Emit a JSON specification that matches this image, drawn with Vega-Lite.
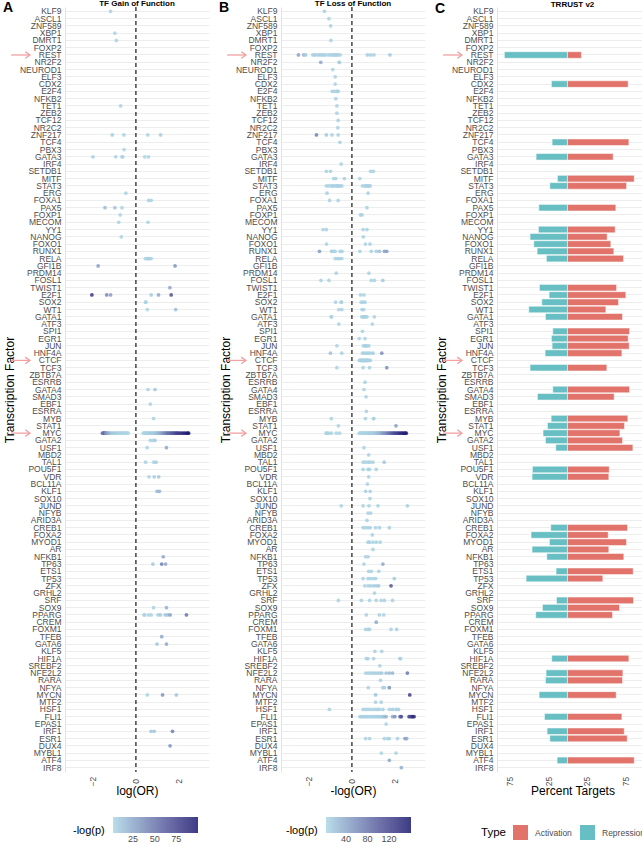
{
 "$schema": "https://vega.github.io/schema/vega-lite/v6.json",
 "padding": {"left": 3, "top": 0, "right": 0, "bottom": 0},
 "autosize": {"type": "pad"},
 "config": {
  "background": "white",
  "view": {"stroke": null},
  "font": "Liberation Sans",
  "title": {"fontSize": 8, "fontWeight": "bold", "color": "#000000", "offset": -2, "anchor": "middle"},
  "axis": {"ticks": false, "domain": false, "grid": false, "labelColor": "#4d4d4d", "labelFontSize": 8.5, "titleFontSize": 12, "titleFontWeight": "normal", "titleColor": "#000000", "labelOverlap": false},
  "legend": {"titleFontWeight": "normal", "titleColor": "#000000", "labelColor": "#4d4d4d"}
 },
 "datasets": {
  "hl": [{"tf": "REST"}, {"tf": "CTCF"}, {"tf": "MYC"}],
  "gof": [
   {"tf":"KLF9","x":-1.18,"lp":5},{"tf":"XBP1","x":-0.98,"lp":5},{"tf":"DMRT1","x":-0.91,"lp":5},{"tf":"TET1","x":-0.71,"lp":5},
   {"tf":"ZNF217","x":0.55,"lp":5},{"tf":"ZNF217","x":1.15,"lp":6},{"tf":"ZNF217","x":-0.56,"lp":5},{"tf":"ZNF217","x":-1.1,"lp":8},
   {"tf":"PBX3","x":-0.55,"lp":5},
   {"tf":"GATA3","x":-0.65,"lp":5},{"tf":"GATA3","x":-2.0,"lp":6},{"tf":"GATA3","x":-0.94,"lp":5},{"tf":"GATA3","x":-0.61,"lp":5},{"tf":"GATA3","x":0.41,"lp":5},{"tf":"GATA3","x":0.58,"lp":5},
   {"tf":"ERG","x":-0.47,"lp":5},{"tf":"FOXA1","x":0.59,"lp":5},{"tf":"FOXA1","x":0.71,"lp":5},
   {"tf":"PAX5","x":-1.44,"lp":15},{"tf":"PAX5","x":-0.98,"lp":12},{"tf":"PAX5","x":-0.65,"lp":5},
   {"tf":"FOXP1","x":-0.73,"lp":5},{"tf":"MECOM","x":-0.8,"lp":5},{"tf":"MECOM","x":0.56,"lp":5},{"tf":"NANOG","x":-0.68,"lp":5},
   {"tf":"RELA","x":0.44,"lp":5},{"tf":"RELA","x":0.53,"lp":5},{"tf":"RELA","x":0.62,"lp":5},{"tf":"RELA","x":0.71,"lp":5},{"tf":"RELA","x":0.59,"lp":5},
   {"tf":"GFI1B","x":-1.76,"lp":30},{"tf":"GFI1B","x":1.82,"lp":35},{"tf":"TWIST1","x":1.58,"lp":25},
   {"tf":"E2F1","x":-2.05,"lp":85},{"tf":"E2F1","x":-1.36,"lp":40},{"tf":"E2F1","x":-1.18,"lp":30},{"tf":"E2F1","x":0.71,"lp":8},{"tf":"E2F1","x":1.05,"lp":25},{"tf":"E2F1","x":1.64,"lp":70},
   {"tf":"SOX2","x":0.45,"lp":5},{"tf":"SOX2","x":0.46,"lp":5},{"tf":"WT1","x":0.53,"lp":5},{"tf":"WT1","x":1.85,"lp":15},
   {"tf":"GATA4","x":0.56,"lp":5},{"tf":"GATA4","x":0.89,"lp":10},{"tf":"EBF1","x":0.67,"lp":5},{"tf":"MYB","x":0.82,"lp":5},
   {"tf":"MYC","x":-1.56,"lp":45},{"tf":"MYC","x":-1.52,"lp":55},{"tf":"MYC","x":-1.48,"lp":50},{"tf":"MYC","x":-1.45,"lp":60},{"tf":"MYC","x":-1.42,"lp":40},{"tf":"MYC","x":-1.38,"lp":35},{"tf":"MYC","x":-1.33,"lp":30},{"tf":"MYC","x":-1.28,"lp":25},{"tf":"MYC","x":-1.22,"lp":20},{"tf":"MYC","x":-1.15,"lp":12},{"tf":"MYC","x":-1.08,"lp":10},{"tf":"MYC","x":-1.02,"lp":8},{"tf":"MYC","x":-0.96,"lp":8},{"tf":"MYC","x":-0.9,"lp":6},{"tf":"MYC","x":-0.85,"lp":6},{"tf":"MYC","x":-0.8,"lp":5},{"tf":"MYC","x":-0.75,"lp":5},{"tf":"MYC","x":-0.7,"lp":5},{"tf":"MYC","x":-0.65,"lp":4},{"tf":"MYC","x":-0.6,"lp":4},{"tf":"MYC","x":-0.55,"lp":4},{"tf":"MYC","x":-0.5,"lp":4},{"tf":"MYC","x":-0.45,"lp":3},{"tf":"MYC","x":-0.4,"lp":3},{"tf":"MYC","x":-0.36,"lp":3},
   {"tf":"MYC","x":0.34,"lp":4},{"tf":"MYC","x":0.38,"lp":4},{"tf":"MYC","x":0.42,"lp":4},{"tf":"MYC","x":0.46,"lp":5},{"tf":"MYC","x":0.5,"lp":5},{"tf":"MYC","x":0.54,"lp":5},{"tf":"MYC","x":0.58,"lp":5},{"tf":"MYC","x":0.62,"lp":6},{"tf":"MYC","x":0.66,"lp":6},{"tf":"MYC","x":0.7,"lp":6},{"tf":"MYC","x":0.74,"lp":7},{"tf":"MYC","x":0.78,"lp":7},{"tf":"MYC","x":0.82,"lp":8},{"tf":"MYC","x":0.86,"lp":9},{"tf":"MYC","x":0.9,"lp":10},{"tf":"MYC","x":0.94,"lp":11},{"tf":"MYC","x":0.98,"lp":12},{"tf":"MYC","x":1.02,"lp":14},{"tf":"MYC","x":1.06,"lp":16},{"tf":"MYC","x":1.1,"lp":18},{"tf":"MYC","x":1.14,"lp":20},{"tf":"MYC","x":1.18,"lp":24},{"tf":"MYC","x":1.22,"lp":27},{"tf":"MYC","x":1.26,"lp":30},{"tf":"MYC","x":1.3,"lp":33},{"tf":"MYC","x":1.34,"lp":36},{"tf":"MYC","x":1.38,"lp":40},{"tf":"MYC","x":1.42,"lp":43},{"tf":"MYC","x":1.46,"lp":46},{"tf":"MYC","x":1.5,"lp":50},{"tf":"MYC","x":1.55,"lp":52},{"tf":"MYC","x":1.6,"lp":55},{"tf":"MYC","x":1.65,"lp":58},{"tf":"MYC","x":1.7,"lp":62},{"tf":"MYC","x":1.75,"lp":65},{"tf":"MYC","x":1.8,"lp":68},{"tf":"MYC","x":1.85,"lp":72},{"tf":"MYC","x":1.9,"lp":75},{"tf":"MYC","x":1.95,"lp":78},{"tf":"MYC","x":2.0,"lp":80},{"tf":"MYC","x":2.08,"lp":84},{"tf":"MYC","x":2.16,"lp":88},{"tf":"MYC","x":2.24,"lp":92},{"tf":"MYC","x":2.32,"lp":95},{"tf":"MYC","x":2.4,"lp":98},{"tf":"MYC","x":2.45,"lp":100},
   {"tf":"GATA2","x":0.67,"lp":5},{"tf":"GATA2","x":0.79,"lp":5},{"tf":"GATA2","x":0.89,"lp":8},
   {"tf":"USF1","x":1.42,"lp":25},{"tf":"USF1","x":0.52,"lp":5},
   {"tf":"TAL1","x":0.45,"lp":5},{"tf":"TAL1","x":0.83,"lp":5},{"tf":"TAL1","x":0.94,"lp":8},
   {"tf":"VDR","x":0.61,"lp":5},{"tf":"VDR","x":0.85,"lp":8},{"tf":"VDR","x":1.06,"lp":10},
   {"tf":"KLF1","x":0.98,"lp":15},{"tf":"KLF1","x":1.09,"lp":20},{"tf":"NFKB1","x":1.27,"lp":25},
   {"tf":"TP63","x":0.79,"lp":10},{"tf":"TP63","x":1.2,"lp":45},{"tf":"TP63","x":1.38,"lp":25},
   {"tf":"SOX9","x":0.82,"lp":5},{"tf":"SOX9","x":1.42,"lp":20},
   {"tf":"PPARG","x":0.38,"lp":5},{"tf":"PPARG","x":0.41,"lp":5},{"tf":"PPARG","x":0.59,"lp":5},{"tf":"PPARG","x":0.71,"lp":5},{"tf":"PPARG","x":1.03,"lp":8},{"tf":"PPARG","x":1.14,"lp":8},{"tf":"PPARG","x":1.36,"lp":10},{"tf":"PPARG","x":1.47,"lp":12},{"tf":"PPARG","x":1.59,"lp":30},{"tf":"PPARG","x":2.35,"lp":50},
   {"tf":"TFEB","x":1.2,"lp":25},{"tf":"GATA6","x":0.98,"lp":10},{"tf":"GATA6","x":1.42,"lp":25},
   {"tf":"MYCN","x":0.53,"lp":5},{"tf":"MYCN","x":1.24,"lp":35},{"tf":"MYCN","x":1.88,"lp":10},
   {"tf":"IRF1","x":0.71,"lp":10},{"tf":"IRF1","x":0.85,"lp":10},{"tf":"IRF1","x":1.7,"lp":45},
   {"tf":"DUX4","x":1.59,"lp":35}
  ],
  "lof": [
   {"tf":"KLF9","x":-1.28,"lp":8},{"tf":"ASCL1","x":-1.07,"lp":8},{"tf":"ZNF589","x":-0.99,"lp":8},{"tf":"DMRT1","x":-0.98,"lp":8},
   {"tf":"REST","x":-2.49,"lp":45},{"tf":"REST","x":-2.24,"lp":30},{"tf":"REST","x":-2.15,"lp":15},{"tf":"REST","x":-1.82,"lp":10},{"tf":"REST","x":-1.73,"lp":12},{"tf":"REST","x":-1.62,"lp":8},{"tf":"REST","x":-1.53,"lp":8},{"tf":"REST","x":-1.45,"lp":8},{"tf":"REST","x":-1.37,"lp":10},{"tf":"REST","x":-1.3,"lp":8},{"tf":"REST","x":-1.24,"lp":8},{"tf":"REST","x":-1.11,"lp":8},{"tf":"REST","x":-1.0,"lp":8},{"tf":"REST","x":-0.92,"lp":8},{"tf":"REST","x":-0.85,"lp":8},{"tf":"REST","x":-0.81,"lp":8},{"tf":"REST","x":-0.73,"lp":8},{"tf":"REST","x":-0.7,"lp":8},{"tf":"REST","x":-0.64,"lp":8},{"tf":"REST","x":-0.55,"lp":8},{"tf":"REST","x":0.72,"lp":10},{"tf":"REST","x":0.87,"lp":10},{"tf":"REST","x":1.02,"lp":10},{"tf":"REST","x":1.77,"lp":15},
   {"tf":"NR2F2","x":-1.45,"lp":40},{"tf":"NR2F2","x":-0.6,"lp":8},{"tf":"NR2F2","x":-0.58,"lp":8},
   {"tf":"NEUROD1","x":-0.89,"lp":8},{"tf":"ELF3","x":-0.78,"lp":8},{"tf":"CDX2","x":-0.78,"lp":8},
   {"tf":"E2F4","x":-0.7,"lp":8},{"tf":"E2F4","x":-0.64,"lp":8},{"tf":"E2F4","x":-0.92,"lp":8},{"tf":"E2F4","x":-0.82,"lp":8},{"tf":"E2F4","x":-0.67,"lp":8},
   {"tf":"NFKB2","x":-0.75,"lp":8},{"tf":"TET1","x":-0.7,"lp":8},{"tf":"ZEB2","x":-0.7,"lp":8},{"tf":"TCF12","x":-0.64,"lp":8},{"tf":"NR2C2","x":-0.66,"lp":8},
   {"tf":"ZNF217","x":-1.65,"lp":70},{"tf":"ZNF217","x":-1.19,"lp":15},{"tf":"ZNF217","x":-0.93,"lp":8},{"tf":"ZNF217","x":-0.64,"lp":8},
   {"tf":"TCF4","x":-0.56,"lp":8},{"tf":"IRF4","x":-0.5,"lp":8},
   {"tf":"SETDB1","x":-1.19,"lp":8},{"tf":"SETDB1","x":-1.0,"lp":8},{"tf":"SETDB1","x":0.87,"lp":8},{"tf":"SETDB1","x":1.0,"lp":8},
   {"tf":"MITF","x":-0.85,"lp":8},{"tf":"MITF","x":-0.75,"lp":8},{"tf":"MITF","x":-0.35,"lp":8},{"tf":"MITF","x":0.37,"lp":8},
   {"tf":"STAT3","x":-1.19,"lp":8},{"tf":"STAT3","x":-1.08,"lp":8},{"tf":"STAT3","x":-0.96,"lp":8},{"tf":"STAT3","x":-0.9,"lp":8},{"tf":"STAT3","x":-0.85,"lp":8},{"tf":"STAT3","x":-0.76,"lp":8},{"tf":"STAT3","x":-0.7,"lp":8},{"tf":"STAT3","x":-0.67,"lp":8},{"tf":"STAT3","x":-0.6,"lp":8},{"tf":"STAT3","x":-0.55,"lp":8},{"tf":"STAT3","x":-0.47,"lp":8},{"tf":"STAT3","x":0.49,"lp":8},{"tf":"STAT3","x":0.6,"lp":8},{"tf":"STAT3","x":0.65,"lp":8},{"tf":"STAT3","x":0.7,"lp":8},{"tf":"STAT3","x":0.75,"lp":8},{"tf":"STAT3","x":0.79,"lp":8},{"tf":"STAT3","x":0.85,"lp":8},
   {"tf":"ERG","x":-1.16,"lp":8},{"tf":"ERG","x":0.75,"lp":8},{"tf":"FOXA1","x":-1.04,"lp":8},{"tf":"FOXA1","x":-0.64,"lp":8},
   {"tf":"PAX5","x":0.7,"lp":8},{"tf":"FOXP1","x":0.47,"lp":8},{"tf":"FOXP1","x":0.4,"lp":8},
   {"tf":"YY1","x":-1.34,"lp":8},{"tf":"YY1","x":-1.19,"lp":8},{"tf":"YY1","x":0.52,"lp":8},{"tf":"YY1","x":0.7,"lp":8},
   {"tf":"NANOG","x":0.53,"lp":8},{"tf":"FOXO1","x":-1.18,"lp":8},{"tf":"FOXO1","x":0.63,"lp":8},{"tf":"FOXO1","x":0.84,"lp":10},
   {"tf":"RUNX1","x":-1.51,"lp":50},{"tf":"RUNX1","x":-0.95,"lp":8},{"tf":"RUNX1","x":-0.93,"lp":8},{"tf":"RUNX1","x":-0.85,"lp":8},{"tf":"RUNX1","x":-0.78,"lp":8},{"tf":"RUNX1","x":-0.55,"lp":8},{"tf":"RUNX1","x":-0.46,"lp":8},{"tf":"RUNX1","x":0.37,"lp":8},{"tf":"RUNX1","x":0.9,"lp":8},{"tf":"RUNX1","x":1.13,"lp":10},{"tf":"RUNX1","x":1.28,"lp":20},{"tf":"RUNX1","x":1.51,"lp":45},{"tf":"RUNX1","x":1.62,"lp":50},
   {"tf":"RELA","x":-0.78,"lp":8},{"tf":"RELA","x":-0.67,"lp":8},{"tf":"RELA","x":-0.58,"lp":8},{"tf":"RELA","x":-0.47,"lp":8},
   {"tf":"PRDM14","x":-0.73,"lp":8},{"tf":"PRDM14","x":0.79,"lp":8},
   {"tf":"FOSL1","x":-1.44,"lp":8},{"tf":"FOSL1","x":-1.07,"lp":8},{"tf":"FOSL1","x":0.9,"lp":8},{"tf":"FOSL1","x":1.05,"lp":8},{"tf":"FOSL1","x":1.44,"lp":15},
   {"tf":"E2F1","x":0.4,"lp":8},{"tf":"E2F1","x":0.56,"lp":8},
   {"tf":"SOX2","x":-0.76,"lp":8},{"tf":"SOX2","x":-0.5,"lp":8},{"tf":"SOX2","x":-0.49,"lp":8},{"tf":"SOX2","x":0.43,"lp":8},{"tf":"SOX2","x":0.52,"lp":8},{"tf":"SOX2","x":0.61,"lp":8},
   {"tf":"WT1","x":-0.61,"lp":8},{"tf":"WT1","x":-0.47,"lp":8},{"tf":"WT1","x":0.47,"lp":8},{"tf":"WT1","x":0.55,"lp":8},
   {"tf":"GATA1","x":-0.96,"lp":8},{"tf":"GATA1","x":-0.95,"lp":8},{"tf":"GATA1","x":0.46,"lp":8},{"tf":"GATA1","x":0.52,"lp":8},{"tf":"GATA1","x":0.55,"lp":8},{"tf":"GATA1","x":0.58,"lp":8},{"tf":"GATA1","x":0.64,"lp":8},{"tf":"GATA1","x":0.7,"lp":8},{"tf":"GATA1","x":1.04,"lp":8},
   {"tf":"ATF3","x":-0.61,"lp":8},{"tf":"ATF3","x":0.95,"lp":8},{"tf":"SPI1","x":0.49,"lp":8},{"tf":"EGR1","x":0.34,"lp":8},{"tf":"EGR1","x":0.61,"lp":8},
   {"tf":"JUN","x":-0.7,"lp":8},{"tf":"JUN","x":0.53,"lp":8},{"tf":"JUN","x":0.61,"lp":8},{"tf":"JUN","x":0.64,"lp":8},{"tf":"JUN","x":0.7,"lp":10},{"tf":"JUN","x":0.79,"lp":8},
   {"tf":"HNF4A","x":-1.0,"lp":20},{"tf":"HNF4A","x":-0.47,"lp":8},{"tf":"HNF4A","x":0.49,"lp":8},{"tf":"HNF4A","x":0.58,"lp":8},{"tf":"HNF4A","x":0.67,"lp":10},{"tf":"HNF4A","x":0.75,"lp":8},{"tf":"HNF4A","x":0.85,"lp":10},{"tf":"HNF4A","x":0.98,"lp":12},{"tf":"HNF4A","x":1.39,"lp":60},
   {"tf":"CTCF","x":0.35,"lp":8},{"tf":"CTCF","x":0.38,"lp":8},{"tf":"CTCF","x":0.42,"lp":8},{"tf":"CTCF","x":0.45,"lp":8},{"tf":"CTCF","x":0.48,"lp":8},{"tf":"CTCF","x":0.5,"lp":8},{"tf":"CTCF","x":0.52,"lp":8},{"tf":"CTCF","x":0.55,"lp":8},{"tf":"CTCF","x":0.57,"lp":8},{"tf":"CTCF","x":0.6,"lp":8},{"tf":"CTCF","x":0.62,"lp":8},{"tf":"CTCF","x":0.65,"lp":8},{"tf":"CTCF","x":0.68,"lp":8},{"tf":"CTCF","x":0.7,"lp":8},{"tf":"CTCF","x":0.72,"lp":8},{"tf":"CTCF","x":0.75,"lp":8},{"tf":"CTCF","x":0.8,"lp":8},{"tf":"CTCF","x":0.85,"lp":10},
   {"tf":"TCF3","x":-0.7,"lp":8},{"tf":"TCF3","x":0.52,"lp":8},{"tf":"TCF3","x":0.82,"lp":8},{"tf":"TCF3","x":1.62,"lp":60},
   {"tf":"ESRRB","x":0.61,"lp":8},{"tf":"GATA4","x":0.56,"lp":8},{"tf":"SMAD3","x":0.66,"lp":8},{"tf":"ESRRA","x":0.67,"lp":8},
   {"tf":"MYB","x":-0.96,"lp":8},{"tf":"MYB","x":0.63,"lp":8},{"tf":"MYB","x":1.0,"lp":8},{"tf":"MYB","x":1.02,"lp":8},
   {"tf":"STAT1","x":-0.63,"lp":8},{"tf":"STAT1","x":2.05,"lp":50},
   {"tf":"MYC","x":-1.2,"lp":10},{"tf":"MYC","x":-1.16,"lp":8},{"tf":"MYC","x":-1.08,"lp":8},{"tf":"MYC","x":-0.96,"lp":8},{"tf":"MYC","x":-0.73,"lp":6},{"tf":"MYC","x":-0.58,"lp":6},
   {"tf":"MYC","x":0.34,"lp":5},{"tf":"MYC","x":0.38,"lp":5},{"tf":"MYC","x":0.42,"lp":5},{"tf":"MYC","x":0.46,"lp":5},{"tf":"MYC","x":0.5,"lp":6},{"tf":"MYC","x":0.54,"lp":6},{"tf":"MYC","x":0.58,"lp":6},{"tf":"MYC","x":0.62,"lp":7},{"tf":"MYC","x":0.66,"lp":7},{"tf":"MYC","x":0.7,"lp":8},{"tf":"MYC","x":0.74,"lp":8},{"tf":"MYC","x":0.78,"lp":9},{"tf":"MYC","x":0.82,"lp":9},{"tf":"MYC","x":0.86,"lp":10},{"tf":"MYC","x":0.9,"lp":10},{"tf":"MYC","x":0.94,"lp":11},{"tf":"MYC","x":0.98,"lp":12},{"tf":"MYC","x":1.02,"lp":13},{"tf":"MYC","x":1.06,"lp":14},{"tf":"MYC","x":1.1,"lp":16},{"tf":"MYC","x":1.14,"lp":18},{"tf":"MYC","x":1.18,"lp":20},{"tf":"MYC","x":1.22,"lp":22},{"tf":"MYC","x":1.26,"lp":25},{"tf":"MYC","x":1.3,"lp":28},{"tf":"MYC","x":1.34,"lp":32},{"tf":"MYC","x":1.38,"lp":36},{"tf":"MYC","x":1.42,"lp":40},{"tf":"MYC","x":1.46,"lp":45},{"tf":"MYC","x":1.5,"lp":50},{"tf":"MYC","x":1.55,"lp":55},{"tf":"MYC","x":1.6,"lp":60},{"tf":"MYC","x":1.65,"lp":66},{"tf":"MYC","x":1.7,"lp":72},{"tf":"MYC","x":1.75,"lp":78},{"tf":"MYC","x":1.8,"lp":85},{"tf":"MYC","x":1.85,"lp":92},{"tf":"MYC","x":1.9,"lp":100},{"tf":"MYC","x":1.95,"lp":106},{"tf":"MYC","x":2.0,"lp":112},{"tf":"MYC","x":2.06,"lp":118},{"tf":"MYC","x":2.12,"lp":124},{"tf":"MYC","x":2.18,"lp":130},{"tf":"MYC","x":2.24,"lp":136},{"tf":"MYC","x":2.3,"lp":142},{"tf":"MYC","x":2.36,"lp":147},{"tf":"MYC","x":2.42,"lp":152},{"tf":"MYC","x":2.48,"lp":156},{"tf":"MYC","x":2.53,"lp":158},
   {"tf":"USF1","x":0.56,"lp":8},{"tf":"MBD2","x":0.78,"lp":8},
   {"tf":"TAL1","x":0.52,"lp":8},{"tf":"TAL1","x":0.63,"lp":8},{"tf":"TAL1","x":0.75,"lp":8},{"tf":"TAL1","x":0.85,"lp":8},{"tf":"TAL1","x":0.98,"lp":8},{"tf":"TAL1","x":1.5,"lp":15},
   {"tf":"POU5F1","x":0.52,"lp":8},{"tf":"POU5F1","x":0.75,"lp":8},{"tf":"POU5F1","x":0.82,"lp":8},{"tf":"POU5F1","x":1.13,"lp":8},
   {"tf":"VDR","x":0.78,"lp":8},{"tf":"BCL11A","x":0.72,"lp":8},{"tf":"KLF1","x":0.64,"lp":8},{"tf":"KLF1","x":0.85,"lp":8},{"tf":"SOX10","x":0.84,"lp":8},
   {"tf":"JUND","x":-0.5,"lp":8},{"tf":"JUND","x":0.52,"lp":8},{"tf":"JUND","x":0.79,"lp":8},{"tf":"JUND","x":1.21,"lp":8},{"tf":"JUND","x":2.58,"lp":12},
   {"tf":"NFYB","x":0.75,"lp":8},{"tf":"NFYB","x":0.87,"lp":8},{"tf":"ARID3A","x":0.7,"lp":8},
   {"tf":"CREB1","x":0.52,"lp":8},{"tf":"CREB1","x":0.63,"lp":8},{"tf":"CREB1","x":0.75,"lp":8},{"tf":"CREB1","x":0.85,"lp":8},{"tf":"CREB1","x":1.1,"lp":8},{"tf":"CREB1","x":1.28,"lp":10},{"tf":"CREB1","x":1.74,"lp":10},
   {"tf":"FOXA2","x":0.95,"lp":8},
   {"tf":"MYOD1","x":0.75,"lp":8},{"tf":"MYOD1","x":0.82,"lp":8},{"tf":"MYOD1","x":0.98,"lp":8},{"tf":"MYOD1","x":1.13,"lp":8},{"tf":"MYOD1","x":1.31,"lp":8},
   {"tf":"AR","x":0.98,"lp":8},{"tf":"NFKB1","x":0.64,"lp":8},{"tf":"NFKB1","x":0.75,"lp":8},
   {"tf":"TP63","x":0.56,"lp":8},{"tf":"TP63","x":1.44,"lp":40},
   {"tf":"ETS1","x":0.78,"lp":8},{"tf":"ETS1","x":0.9,"lp":8},{"tf":"ETS1","x":1.25,"lp":8},
   {"tf":"TP53","x":0.52,"lp":8},{"tf":"TP53","x":0.75,"lp":8},{"tf":"TP53","x":0.85,"lp":8},{"tf":"TP53","x":0.98,"lp":8},{"tf":"TP53","x":1.1,"lp":8},{"tf":"TP53","x":1.97,"lp":15},
   {"tf":"ZFX","x":0.6,"lp":8},{"tf":"ZFX","x":0.75,"lp":8},{"tf":"ZFX","x":0.87,"lp":10},{"tf":"ZFX","x":1.01,"lp":12},{"tf":"ZFX","x":1.13,"lp":12},{"tf":"ZFX","x":1.24,"lp":15},{"tf":"ZFX","x":1.82,"lp":110},
   {"tf":"GRHL2","x":1.05,"lp":8},
   {"tf":"SRF","x":-0.63,"lp":8},{"tf":"SRF","x":0.44,"lp":8},{"tf":"SRF","x":0.82,"lp":8},{"tf":"SRF","x":1.13,"lp":8},{"tf":"SRF","x":1.36,"lp":8},{"tf":"SRF","x":1.51,"lp":8},{"tf":"SRF","x":1.89,"lp":8},
   {"tf":"PPARG","x":0.67,"lp":8},{"tf":"PPARG","x":1.28,"lp":8},{"tf":"PPARG","x":1.48,"lp":8},
   {"tf":"CREM","x":1.13,"lp":40},
   {"tf":"FOXM1","x":0.64,"lp":8},{"tf":"FOXM1","x":0.75,"lp":8},{"tf":"FOXM1","x":0.82,"lp":8},{"tf":"FOXM1","x":1.82,"lp":8},{"tf":"FOXM1","x":2.08,"lp":8},
   {"tf":"KLF5","x":1.07,"lp":8},{"tf":"KLF5","x":1.39,"lp":8},
   {"tf":"HIF1A","x":0.67,"lp":8},{"tf":"HIF1A","x":0.75,"lp":8},{"tf":"HIF1A","x":1.01,"lp":8},{"tf":"HIF1A","x":2.23,"lp":8},{"tf":"HIF1A","x":2.27,"lp":8},
   {"tf":"SREBF2","x":1.3,"lp":8},
   {"tf":"NFE2L2","x":0.64,"lp":8},{"tf":"NFE2L2","x":0.75,"lp":8},{"tf":"NFE2L2","x":0.85,"lp":8},{"tf":"NFE2L2","x":0.95,"lp":8},{"tf":"NFE2L2","x":1.05,"lp":10},{"tf":"NFE2L2","x":1.16,"lp":12},{"tf":"NFE2L2","x":1.28,"lp":14},{"tf":"NFE2L2","x":1.39,"lp":16},{"tf":"NFE2L2","x":1.59,"lp":20},{"tf":"NFE2L2","x":1.74,"lp":25},{"tf":"NFE2L2","x":1.89,"lp":30},{"tf":"NFE2L2","x":2.58,"lp":80},
   {"tf":"RARA","x":1.33,"lp":8},
   {"tf":"NFYA","x":0.76,"lp":8},{"tf":"NFYA","x":1.44,"lp":8},{"tf":"NFYA","x":1.51,"lp":10},{"tf":"NFYA","x":1.74,"lp":60},
   {"tf":"MYCN","x":1.1,"lp":20},{"tf":"MYCN","x":2.69,"lp":130},
   {"tf":"MTF2","x":1.1,"lp":8},{"tf":"MTF2","x":1.36,"lp":8},
   {"tf":"HSF1","x":-1.05,"lp":8},{"tf":"HSF1","x":0.52,"lp":8},{"tf":"HSF1","x":0.64,"lp":8},{"tf":"HSF1","x":0.75,"lp":8},{"tf":"HSF1","x":0.85,"lp":8},{"tf":"HSF1","x":0.98,"lp":8},{"tf":"HSF1","x":1.1,"lp":8},{"tf":"HSF1","x":1.2,"lp":8},{"tf":"HSF1","x":1.28,"lp":8},{"tf":"HSF1","x":1.44,"lp":10},{"tf":"HSF1","x":1.74,"lp":10},{"tf":"HSF1","x":1.89,"lp":12},{"tf":"HSF1","x":2.05,"lp":12},{"tf":"HSF1","x":2.17,"lp":12},
   {"tf":"FLI1","x":0.37,"lp":8},{"tf":"FLI1","x":0.45,"lp":8},{"tf":"FLI1","x":0.52,"lp":8},{"tf":"FLI1","x":0.6,"lp":8},{"tf":"FLI1","x":0.67,"lp":8},{"tf":"FLI1","x":0.75,"lp":8},{"tf":"FLI1","x":0.82,"lp":8},{"tf":"FLI1","x":0.9,"lp":8},{"tf":"FLI1","x":0.98,"lp":8},{"tf":"FLI1","x":1.05,"lp":8},{"tf":"FLI1","x":1.13,"lp":10},{"tf":"FLI1","x":1.2,"lp":10},{"tf":"FLI1","x":1.28,"lp":12},{"tf":"FLI1","x":1.36,"lp":12},{"tf":"FLI1","x":1.44,"lp":15},{"tf":"FLI1","x":1.51,"lp":20},{"tf":"FLI1","x":1.59,"lp":30},{"tf":"FLI1","x":1.89,"lp":40},{"tf":"FLI1","x":2.0,"lp":60},{"tf":"FLI1","x":2.24,"lp":100},{"tf":"FLI1","x":2.3,"lp":110},{"tf":"FLI1","x":2.66,"lp":130},{"tf":"FLI1","x":2.75,"lp":120},{"tf":"FLI1","x":2.81,"lp":140},{"tf":"FLI1","x":2.89,"lp":150},
   {"tf":"EPAS1","x":1.59,"lp":8},
   {"tf":"ESR1","x":0.64,"lp":8},{"tf":"ESR1","x":0.82,"lp":8},{"tf":"ESR1","x":1.51,"lp":8},{"tf":"ESR1","x":1.66,"lp":8},{"tf":"ESR1","x":1.74,"lp":10},{"tf":"ESR1","x":2.12,"lp":10},{"tf":"ESR1","x":2.47,"lp":50},{"tf":"ESR1","x":2.55,"lp":40},
   {"tf":"MYBL1","x":1.37,"lp":8},{"tf":"MYBL1","x":2.05,"lp":8},
   {"tf":"ATF4","x":1.74,"lp":40},{"tf":"IRF8","x":2.3,"lp":35}
  ],
  "trrust": [
   {"tf":"REST","type":"Repression","pct":-81.5},{"tf":"REST","type":"Activation","pct":18},
   {"tf":"CDX2","type":"Repression","pct":-20.7},{"tf":"CDX2","type":"Activation","pct":78.4},
   {"tf":"TCF4","type":"Repression","pct":-19.8},{"tf":"TCF4","type":"Activation","pct":79.3},
   {"tf":"GATA3","type":"Repression","pct":-40.5},{"tf":"GATA3","type":"Activation","pct":59},
   {"tf":"MITF","type":"Repression","pct":-12.9},{"tf":"MITF","type":"Activation","pct":86.2},
   {"tf":"STAT3","type":"Repression","pct":-22.8},{"tf":"STAT3","type":"Activation","pct":76.3},
   {"tf":"PAX5","type":"Repression","pct":-37},{"tf":"PAX5","type":"Activation","pct":62.5},
   {"tf":"YY1","type":"Repression","pct":-37.5},{"tf":"YY1","type":"Activation","pct":61.6},
   {"tf":"NANOG","type":"Repression","pct":-48.3},{"tf":"NANOG","type":"Activation","pct":51.3},
   {"tf":"FOXO1","type":"Repression","pct":-43.5},{"tf":"FOXO1","type":"Activation","pct":56},
   {"tf":"RUNX1","type":"Repression","pct":-39.2},{"tf":"RUNX1","type":"Activation","pct":59.9},
   {"tf":"RELA","type":"Repression","pct":-27.2},{"tf":"RELA","type":"Activation","pct":72.4},
   {"tf":"TWIST1","type":"Repression","pct":-36.2},{"tf":"TWIST1","type":"Activation","pct":63.4},
   {"tf":"E2F1","type":"Repression","pct":-23.7},{"tf":"E2F1","type":"Activation","pct":75.4},
   {"tf":"SOX2","type":"Repression","pct":-33.2},{"tf":"SOX2","type":"Activation","pct":65.9},
   {"tf":"WT1","type":"Repression","pct":-50},{"tf":"WT1","type":"Activation","pct":49.6},
   {"tf":"GATA1","type":"Repression","pct":-28.4},{"tf":"GATA1","type":"Activation","pct":71.1},
   {"tf":"SPI1","type":"Repression","pct":-19},{"tf":"SPI1","type":"Activation","pct":80.2},
   {"tf":"EGR1","type":"Repression","pct":-20.7},{"tf":"EGR1","type":"Activation","pct":78.4},
   {"tf":"JUN","type":"Repression","pct":-19.8},{"tf":"JUN","type":"Activation","pct":79.7},
   {"tf":"HNF4A","type":"Repression","pct":-28.9},{"tf":"HNF4A","type":"Activation","pct":70.3},
   {"tf":"TCF3","type":"Repression","pct":-48.3},{"tf":"TCF3","type":"Activation","pct":50.9},
   {"tf":"GATA4","type":"Repression","pct":-19},{"tf":"GATA4","type":"Activation","pct":80.2},
   {"tf":"SMAD3","type":"Repression","pct":-38.8},{"tf":"SMAD3","type":"Activation","pct":60.3},
   {"tf":"MYB","type":"Repression","pct":-21.1},{"tf":"MYB","type":"Activation","pct":78},
   {"tf":"STAT1","type":"Repression","pct":-25.9},{"tf":"STAT1","type":"Activation","pct":73.7},
   {"tf":"MYC","type":"Repression","pct":-31.5},{"tf":"MYC","type":"Activation","pct":67.7},
   {"tf":"GATA2","type":"Repression","pct":-28.4},{"tf":"GATA2","type":"Activation","pct":71.1},
   {"tf":"USF1","type":"Repression","pct":-15.1},{"tf":"USF1","type":"Activation","pct":84.5},
   {"tf":"POU5F1","type":"Repression","pct":-45.3},{"tf":"POU5F1","type":"Activation","pct":53.9},
   {"tf":"VDR","type":"Repression","pct":-45.7},{"tf":"VDR","type":"Activation","pct":53.4},
   {"tf":"CREB1","type":"Repression","pct":-21.6},{"tf":"CREB1","type":"Activation","pct":77.6},
   {"tf":"FOXA2","type":"Repression","pct":-47},{"tf":"FOXA2","type":"Activation","pct":52.6},
   {"tf":"MYOD1","type":"Repression","pct":-23.3},{"tf":"MYOD1","type":"Activation","pct":76.3},
   {"tf":"AR","type":"Repression","pct":-45.7},{"tf":"AR","type":"Activation","pct":53.4},
   {"tf":"NFKB1","type":"Repression","pct":-26.7},{"tf":"NFKB1","type":"Activation","pct":72.8},
   {"tf":"ETS1","type":"Repression","pct":-14.7},{"tf":"ETS1","type":"Activation","pct":84.9},
   {"tf":"TP53","type":"Repression","pct":-53.4},{"tf":"TP53","type":"Activation","pct":45.7},
   {"tf":"SRF","type":"Repression","pct":-14.2},{"tf":"SRF","type":"Activation","pct":85.3},
   {"tf":"SOX9","type":"Repression","pct":-32.3},{"tf":"SOX9","type":"Activation","pct":67.2},
   {"tf":"PPARG","type":"Repression","pct":-41},{"tf":"PPARG","type":"Activation","pct":58.2},
   {"tf":"HIF1A","type":"Repression","pct":-20.3},{"tf":"HIF1A","type":"Activation","pct":79.3},
   {"tf":"NFE2L2","type":"Repression","pct":-27.6},{"tf":"NFE2L2","type":"Activation","pct":71.6},
   {"tf":"RARA","type":"Repression","pct":-28.4},{"tf":"RARA","type":"Activation","pct":71.1},
   {"tf":"MYCN","type":"Repression","pct":-36.6},{"tf":"MYCN","type":"Activation","pct":62.9},
   {"tf":"FLI1","type":"Repression","pct":-29.7},{"tf":"FLI1","type":"Activation","pct":70.3},
   {"tf":"IRF1","type":"Repression","pct":-26.3},{"tf":"IRF1","type":"Activation","pct":73.3},
   {"tf":"ESR1","type":"Repression","pct":-22.8},{"tf":"ESR1","type":"Activation","pct":77.2},
   {"tf":"ATF4","type":"Repression","pct":-13.4},{"tf":"ATF4","type":"Activation","pct":86.2}
  ]
 },
 "hconcat": [
  {
   "title": {"text": "A", "anchor": "start", "frame": "bounds", "fontSize": 14, "fontWeight": "bold", "offset": -15},
   "vconcat": [{
    "width": 144, "height": 765,
    "title": {"text": "TF Gain of Function"},
    "layer": [
     {"data": {"values": [{}]}, "mark": {"type": "rule", "strokeDash": [4, 3], "strokeWidth": 1.1, "color": "#000000"}, "encoding": {"x": {"datum": 0, "type": "quantitative"}}},
     {"data": {"name": "gof"}, "mark": {"type": "circle", "size": 14, "opacity": 0.85},
      "encoding": {
       "x": {"field": "x", "type": "quantitative", "scale": {"domain": [-3.3, 3.4], "nice": false, "zero": false}, "axis": {"title": "log(OR)", "values": [-2, 0, 2], "labelAngle": 270, "labelAlign": "center", "labelBaseline": "middle", "labelPadding": 9, "titlePadding": 0, "labelOverlap": false, "labelFlush": false}},
       "y": {"field": "tf", "type": "nominal", "scale": {"type": "band", "paddingInner": 0, "paddingOuter": 0.1, "domain": ["KLF9","ASCL1","ZNF589","XBP1","DMRT1","FOXP2","REST","NR2F2","NEUROD1","ELF3","CDX2","E2F4","NFKB2","TET1","ZEB2","TCF12","NR2C2","ZNF217","TCF4","PBX3","GATA3","IRF4","SETDB1","MITF","STAT3","ERG","FOXA1","PAX5","FOXP1","MECOM","YY1","NANOG","FOXO1","RUNX1","RELA","GFI1B","PRDM14","FOSL1","TWIST1","E2F1","SOX2","WT1","GATA1","ATF3","SPI1","EGR1","JUN","HNF4A","CTCF","TCF3","ZBTB7A","ESRRB","GATA4","SMAD3","EBF1","ESRRA","MYB","STAT1","MYC","GATA2","USF1","MBD2","TAL1","POU5F1","VDR","BCL11A","KLF1","SOX10","JUND","NFYB","ARID3A","CREB1","FOXA2","MYOD1","AR","NFKB1","TP63","ETS1","TP53","ZFX","GRHL2","SRF","SOX9","PPARG","CREM","FOXM1","TFEB","GATA6","KLF5","HIF1A","SREBF2","NFE2L2","RARA","NFYA","MYCN","MTF2","HSF1","FLI1","EPAS1","IRF1","ESR1","DUX4","MYBL1","ATF4","IRF8"]},
        "axis": {"title": "Transcription Factor", "grid": true, "gridColor": "#ebebeb", "gridWidth": 0.9, "bandPosition": 0.5, "domain": true, "domainColor": "#e3e3e3", "labelPadding": 4, "minExtent": 46, "maxExtent": 46, "titlePadding": 3}},
       "color": {"field": "lp", "type": "quantitative", "scale": {"domain": [2, 100], "range": ["#add8e6", "#191970"], "interpolate": "lab"},
        "legend": {"title": "-log(p)", "orient": "none", "legendX": 8, "legendY": 810, "direction": "horizontal", "titleOrient": "left", "titleAnchor": "middle", "titleBaseline": "top", "gradientLength": 85, "gradientThickness": 16, "values": [25, 50, 75], "titleFontSize": 11, "labelFontSize": 9, "titlePadding": 8}}
      }},
     {"data": {"name": "hl"}, "mark": {"type": "rule", "color": "#f2a0a0", "strokeWidth": 1.3},
      "encoding": {"x": {"datum": -5.81, "type": "quantitative"}, "x2": {"datum": -4.93}, "y": {"field": "tf", "type": "nominal"}}},
     {"data": {"name": "hl"}, "mark": {"type": "point", "shape": "M-1,-0.7L0,0L-1,0.7", "filled": false, "color": "#f2a0a0", "strokeWidth": 1.3, "size": 90, "opacity": 1},
      "encoding": {"x": {"datum": -4.93, "type": "quantitative"}, "y": {"field": "tf", "type": "nominal"}}}
    ]
   }]
  },
  {
   "title": {"text": "B", "anchor": "start", "frame": "bounds", "fontSize": 14, "fontWeight": "bold", "offset": -15},
   "vconcat": [{
    "width": 144, "height": 765,
    "title": {"text": "TF Loss of Function"},
    "layer": [
     {"data": {"values": [{}]}, "mark": {"type": "rule", "strokeDash": [4, 3], "strokeWidth": 1.1, "color": "#000000"}, "encoding": {"x": {"datum": 0, "type": "quantitative"}}},
     {"data": {"name": "lof"}, "mark": {"type": "circle", "size": 14, "opacity": 0.85},
      "encoding": {
       "x": {"field": "x", "type": "quantitative", "scale": {"domain": [-3.3, 3.4], "nice": false, "zero": false}, "axis": {"title": "-log(OR)", "values": [-2, 0, 2], "labelAngle": 270, "labelAlign": "center", "labelBaseline": "middle", "labelPadding": 9, "titlePadding": 0, "labelOverlap": false, "labelFlush": false}},
       "y": {"field": "tf", "type": "nominal", "scale": {"type": "band", "paddingInner": 0, "paddingOuter": 0.1, "domain": ["KLF9","ASCL1","ZNF589","XBP1","DMRT1","FOXP2","REST","NR2F2","NEUROD1","ELF3","CDX2","E2F4","NFKB2","TET1","ZEB2","TCF12","NR2C2","ZNF217","TCF4","PBX3","GATA3","IRF4","SETDB1","MITF","STAT3","ERG","FOXA1","PAX5","FOXP1","MECOM","YY1","NANOG","FOXO1","RUNX1","RELA","GFI1B","PRDM14","FOSL1","TWIST1","E2F1","SOX2","WT1","GATA1","ATF3","SPI1","EGR1","JUN","HNF4A","CTCF","TCF3","ZBTB7A","ESRRB","GATA4","SMAD3","EBF1","ESRRA","MYB","STAT1","MYC","GATA2","USF1","MBD2","TAL1","POU5F1","VDR","BCL11A","KLF1","SOX10","JUND","NFYB","ARID3A","CREB1","FOXA2","MYOD1","AR","NFKB1","TP63","ETS1","TP53","ZFX","GRHL2","SRF","SOX9","PPARG","CREM","FOXM1","TFEB","GATA6","KLF5","HIF1A","SREBF2","NFE2L2","RARA","NFYA","MYCN","MTF2","HSF1","FLI1","EPAS1","IRF1","ESR1","DUX4","MYBL1","ATF4","IRF8"]},
        "axis": {"title": "Transcription Factor", "grid": true, "gridColor": "#ebebeb", "gridWidth": 0.9, "bandPosition": 0.5, "domain": true, "domainColor": "#e3e3e3", "labelPadding": 4, "minExtent": 46, "maxExtent": 46, "titlePadding": 3}},
       "color": {"field": "lp", "type": "quantitative", "scale": {"domain": [3, 161], "range": ["#add8e6", "#191970"], "interpolate": "lab"},
        "legend": {"title": "-log(p)", "orient": "none", "legendX": 5, "legendY": 810, "direction": "horizontal", "titleOrient": "left", "titleAnchor": "middle", "titleBaseline": "top", "gradientLength": 85, "gradientThickness": 16, "values": [40, 80, 120], "titleFontSize": 11, "labelFontSize": 9, "titlePadding": 8}}
      }},
     {"data": {"name": "hl"}, "mark": {"type": "rule", "color": "#f2a0a0", "strokeWidth": 1.3},
      "encoding": {"x": {"datum": -5.81, "type": "quantitative"}, "x2": {"datum": -4.93}, "y": {"field": "tf", "type": "nominal"}}},
     {"data": {"name": "hl"}, "mark": {"type": "point", "shape": "M-1,-0.7L0,0L-1,0.7", "filled": false, "color": "#f2a0a0", "strokeWidth": 1.3, "size": 90, "opacity": 1},
      "encoding": {"x": {"datum": -4.93, "type": "quantitative"}, "y": {"field": "tf", "type": "nominal"}}}
    ]
   }]
  },
  {
   "title": {"text": "C", "anchor": "start", "frame": "bounds", "fontSize": 14, "fontWeight": "bold", "offset": -15},
   "vconcat": [{
    "width": 151, "height": 765,
    "title": {"text": "TRRUST v2"},
    "layer": [
     {"data": {"name": "trrust"}, "mark": {"type": "bar", "height": {"band": 0.9}, "stroke": "white", "strokeWidth": 0.5},
      "encoding": {
       "x": {"field": "pct", "type": "quantitative", "scale": {"domain": [-91, 104], "nice": false, "zero": false}, "axis": {"title": "Percent Targets", "values": [-75, -50, -25, 0, 25, 50, 75], "labelExpr": "'' + abs(datum.value)", "labelAngle": 270, "labelAlign": "center", "labelBaseline": "middle", "labelPadding": 9, "titlePadding": 0, "labelOverlap": false, "labelFlush": false, "labelBound": false}},
       "y": {"field": "tf", "type": "nominal", "scale": {"type": "band", "paddingInner": 0, "paddingOuter": 0.1, "domain": ["KLF9","ASCL1","ZNF589","XBP1","DMRT1","FOXP2","REST","NR2F2","NEUROD1","ELF3","CDX2","E2F4","NFKB2","TET1","ZEB2","TCF12","NR2C2","ZNF217","TCF4","PBX3","GATA3","IRF4","SETDB1","MITF","STAT3","ERG","FOXA1","PAX5","FOXP1","MECOM","YY1","NANOG","FOXO1","RUNX1","RELA","GFI1B","PRDM14","FOSL1","TWIST1","E2F1","SOX2","WT1","GATA1","ATF3","SPI1","EGR1","JUN","HNF4A","CTCF","TCF3","ZBTB7A","ESRRB","GATA4","SMAD3","EBF1","ESRRA","MYB","STAT1","MYC","GATA2","USF1","MBD2","TAL1","POU5F1","VDR","BCL11A","KLF1","SOX10","JUND","NFYB","ARID3A","CREB1","FOXA2","MYOD1","AR","NFKB1","TP63","ETS1","TP53","ZFX","GRHL2","SRF","SOX9","PPARG","CREM","FOXM1","TFEB","GATA6","KLF5","HIF1A","SREBF2","NFE2L2","RARA","NFYA","MYCN","MTF2","HSF1","FLI1","EPAS1","IRF1","ESR1","DUX4","MYBL1","ATF4","IRF8"]},
        "axis": {"title": "Transcription Factor", "grid": true, "gridColor": "#ebebeb", "gridWidth": 0.9, "bandPosition": 0.5, "domain": true, "domainColor": "#e3e3e3", "labelPadding": 4, "minExtent": 46, "maxExtent": 46, "titlePadding": 3}},
       "color": {"field": "type", "type": "nominal", "scale": {"domain": ["Activation", "Repression"], "range": ["#E1736B", "#68BFC3"]},
        "legend": {"title": "Type", "orient": "none", "legendX": -16, "legendY": 818, "direction": "horizontal", "titleOrient": "left", "titleAnchor": "middle", "titleBaseline": "middle", "symbolType": "square", "symbolSize": 225, "symbolStrokeWidth": 0, "symbolOpacity": 1, "labelOffset": 7, "columnPadding": 8, "titleFontSize": 11.5, "labelFontSize": 8.5, "titlePadding": 7}}
      }},
     {"data": {"name": "hl"}, "mark": {"type": "rule", "color": "#f2a0a0", "strokeWidth": 1.3},
      "encoding": {"x": {"datum": -160.7, "type": "quantitative"}, "x2": {"datum": -136.2}, "y": {"field": "tf", "type": "nominal"}}},
     {"data": {"name": "hl"}, "mark": {"type": "point", "shape": "M-1,-0.7L0,0L-1,0.7", "filled": false, "color": "#f2a0a0", "strokeWidth": 1.3, "size": 90, "opacity": 1},
      "encoding": {"x": {"datum": -136.2, "type": "quantitative"}, "y": {"field": "tf", "type": "nominal"}}}
    ]
   }]
  }
 ],
 "spacing": 10,
 "resolve": {"scale": {"color": "independent", "x": "independent", "y": "independent"}, "legend": {"color": "independent"}}
}
